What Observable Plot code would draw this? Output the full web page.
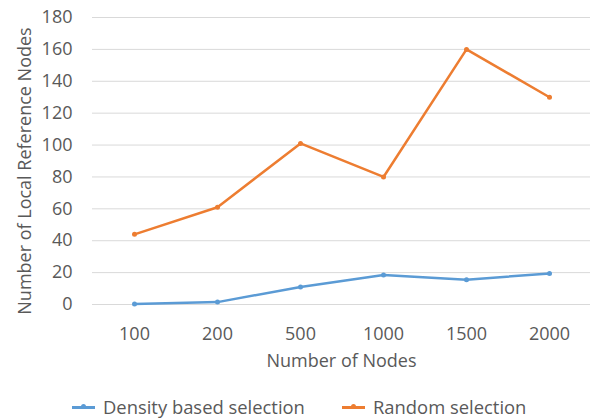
<!DOCTYPE html>
<html>
<head>
<meta charset="utf-8">
<script src="https://cdn.jsdelivr.net/npm/d3@7"></script>
<script src="https://cdn.jsdelivr.net/npm/@observablehq/plot@0.6"></script>
<style>
  html, body { margin: 0; padding: 0; background: #fff; }
  body { width: 592px; height: 418px; overflow: hidden; font-family: "Open Sans", sans-serif; }
  #legend { height: 22px; line-height: 22px; font-size: 18.4px; color: #595959; position: relative; }
  .item { position: absolute; top: 0; display: flex; align-items: center; height: 22px; }
  .swatch { position: relative; width: 23px; height: 3px; margin-right: 8px; }
  .swatch::after { content: ""; position: absolute; left: 9px; top: -1.5px; width: 5px; height: 5px; border-radius: 50%; background: inherit; }
</style>
</head>
<body>
<div id="chart"></div>
<div id="legend"></div>
<script>
const categories = ["100", "200", "500", "1000", "1500", "2000"];
const seriesNames = ["Density based selection", "Random selection"];
const densityValues = [0.3, 1.5, 11, 18.5, 15.5, 19.5];
const randomValues = [44, 61, 101, 80, 160, 130];
const yTicks = [0, 20, 40, 60, 80, 100, 120, 140, 160, 180];
const colors = ["#5b9bd5", "#ed7d31"];

const data = [];
categories.forEach((c, i) => {
  data.push({series: seriesNames[0], x: c, y: densityValues[i]});
  data.push({series: seriesNames[1], x: c, y: randomValues[i]});
});

const textColor = "#595959";

const chart = Plot.plot({
  width: 592,
  height: 396,
  marginTop: 17,
  marginBottom: 92,
  marginLeft: 92,
  marginRight: 2,
  style: {fontFamily: "'Open Sans', sans-serif", fontSize: "18px", color: textColor, background: "#fff"},
  x: {type: "point", domain: categories, padding: 0.5},
  y: {domain: [0, 180], ticks: yTicks},
  color: {domain: seriesNames, range: colors},
  marks: [
    Plot.gridY(yTicks, {stroke: "#d9d9d9", strokeOpacity: 1, strokeWidth: 1}),
    Plot.axisY(yTicks, {tickSize: 0, tickPadding: 20, label: null, fill: textColor, fontSize: 18}),
    Plot.axisX({tickSize: 0, tickPadding: 23, label: null, fill: textColor, fontSize: 18}),
    Plot.text(["Number of Nodes"], {frameAnchor: "bottom", dy: 62, fill: textColor, fontSize: 18}),
    Plot.text(["Number of Local Reference Nodes"], {frameAnchor: "left", textAnchor: "middle", rotate: -90, dx: -67, dy: 10, fill: textColor, fontSize: 18}),
    Plot.line(data, {x: "x", y: "y", z: "series", stroke: "series", strokeWidth: 2.5}),
    Plot.dot(data, {x: "x", y: "y", fill: "series", r: 2.5})
  ]
});
document.getElementById("chart").appendChild(chart);

const legend = document.getElementById("legend");
const legendX = [72, 342];
seriesNames.forEach((name, i) => {
  const item = document.createElement("div");
  item.className = "item";
  item.style.left = legendX[i] + "px";
  const sw = document.createElement("span");
  sw.className = "swatch";
  sw.style.background = colors[i];
  const t = document.createElement("span");
  t.textContent = name;
  item.appendChild(sw);
  item.appendChild(t);
  legend.appendChild(item);
});
</script>
</body>
</html>
